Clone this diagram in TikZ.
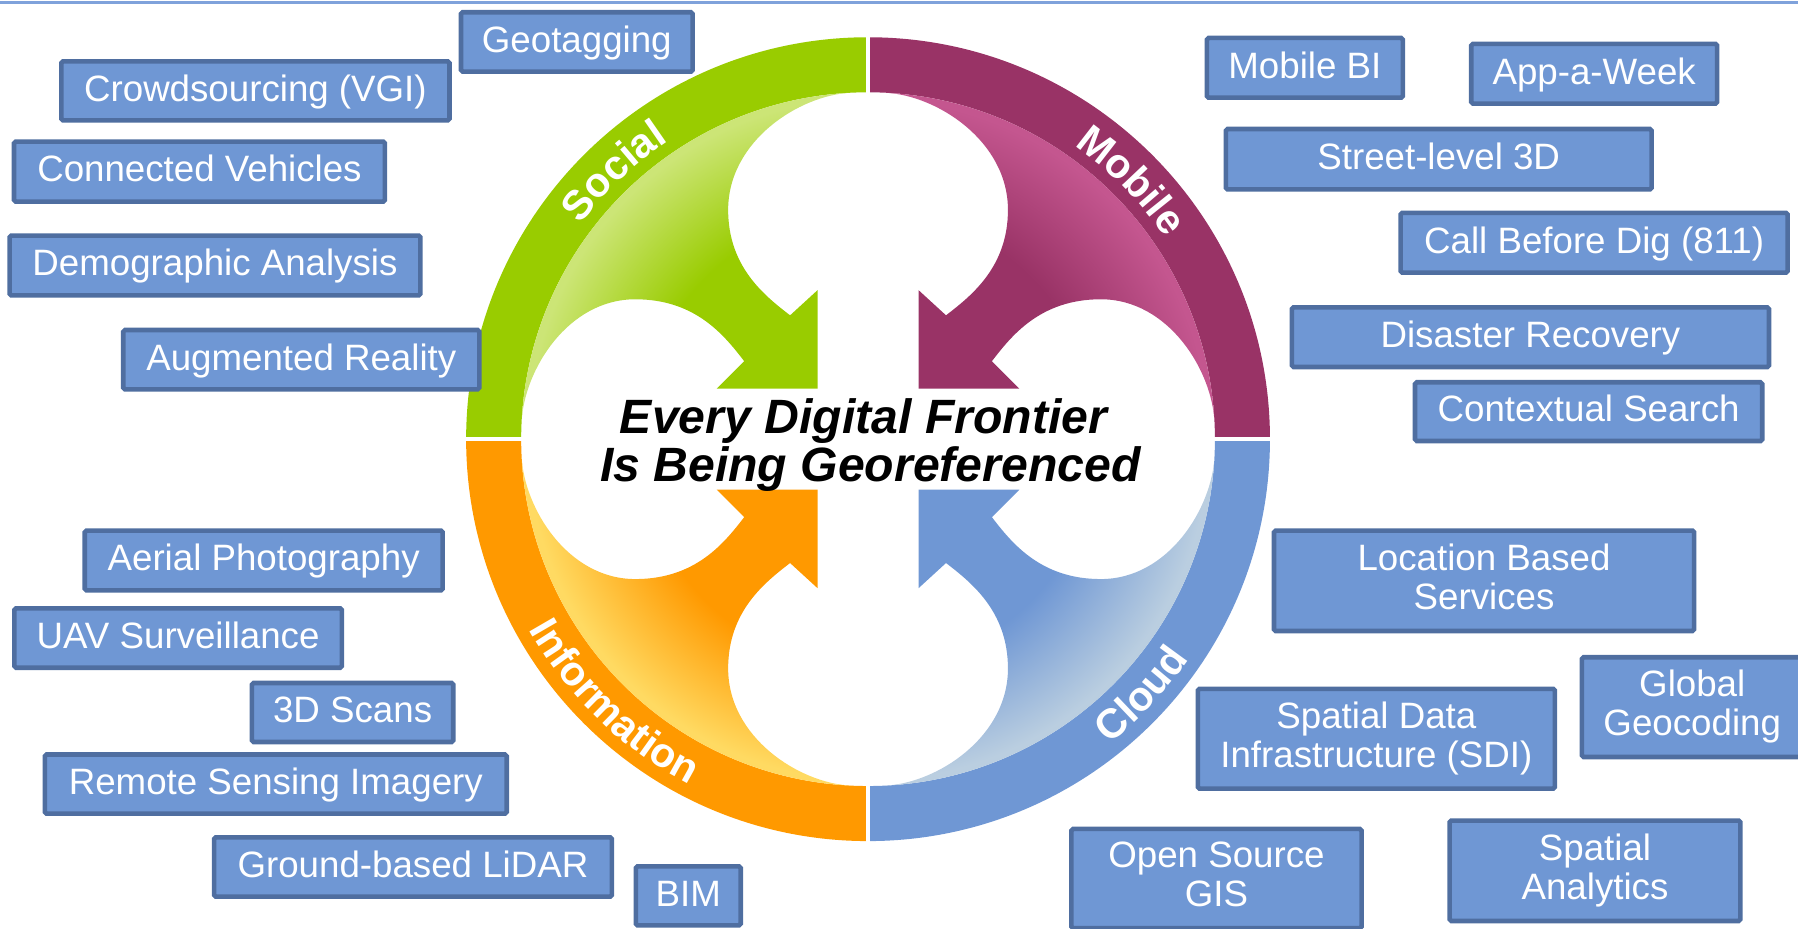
\documentclass[tikz,border=0pt]{standalone}
\usepackage{fontspec}
\setmainfont{Liberation Sans}
\usetikzlibrary{decorations.text}

\definecolor{boxfill}{RGB}{111,151,212}
\definecolor{boxline}{RGB}{79,110,160}
\definecolor{gBase}{RGB}{153,204,0}
\definecolor{gLight}{RGB}{204,229,118}
\definecolor{pBase}{RGB}{153,51,102}
\definecolor{pLight}{RGB}{196,86,143}
\definecolor{oBase}{RGB}{255,153,0}
\definecolor{oLight}{RGB}{255,218,98}
\definecolor{bBase}{RGB}{111,151,212}
\definecolor{bLight}{RGB}{186,206,224}
\definecolor{toplinecol}{RGB}{127,162,219}

\pgfdeclareradialshading{shG}{\pgfpoint{0bp}{0bp}}{color(0bp)=(gBase); color(16.5bp)=(gBase); color(24.6bp)=(gLight); color(50bp)=(gLight)}
\pgfdeclareradialshading{shP}{\pgfpoint{0bp}{0bp}}{color(0bp)=(pBase); color(16.5bp)=(pBase); color(24.6bp)=(pLight); color(50bp)=(pLight)}
\pgfdeclareradialshading{shO}{\pgfpoint{0bp}{0bp}}{color(0bp)=(oBase); color(16.5bp)=(oBase); color(24.6bp)=(oLight); color(50bp)=(oLight)}
\pgfdeclareradialshading{shB}{\pgfpoint{0bp}{0bp}}{color(0bp)=(bBase); color(16.5bp)=(bBase); color(24.6bp)=(bLight); color(50bp)=(bLight)}

\newcommand{\bstrut}{\rule[-7pt]{0pt}{32pt}}
\newcommand{\arcfont}{\fontsize{36}{36}\selectfont\bfseries}

\newcommand{\armshape}[1]{#1 (92.85:302.5) .. controls (-60,300) and (-122,260) .. (-122,200)
  .. controls (-122,150) and (-90,125) .. (-68,108) -- (-44,130) -- (-44,44) -- (-132,44) -- (-108,68)
  .. controls (-125,90) and (-150,122) .. (-203,122) .. controls (-262,122) and (-300,60) .. (177.15:302.5)
  arc[start angle=177.15, end angle=92.85, radius=302.5] -- cycle;}

\newcommand{\quadrant}[3]{%
  \begin{scope}[#1]
    \fill[#2] (90:350.5) arc[start angle=90, end angle=180, radius=350.5] -- (180:302.5)
      arc[start angle=180, end angle=90, radius=302.5] -- cycle;
    \begin{scope}
      \armshape{\clip}
      \shade[shading=#3] (0,0) circle (302.5);
    \end{scope}
  \end{scope}}

\tikzset{
  box/.style={draw=boxline, fill=boxfill, line width=4pt, rounded corners=1.5pt,
    text=white, font=\fontsize{32}{34}\selectfont, align=center, inner sep=0pt,
    execute at begin node=\bstrut, execute at end node=\bstrut},
  titletext/.style={font=\fontsize{42}{42}\selectfont\bfseries\itshape, text=black, inner sep=0pt, anchor=base},
  divider/.style={white, line width=3.5pt},
  arclabel/.style={decorate, decoration={text along path, text align=center, text color=white, text={|\arcfont|#1}}}
}

\begin{document}
\begin{tikzpicture}[x=1pt, y=1pt]
\useasboundingbox (0,0) rectangle (1568,810);
\clip (0,0) rectangle (1568,810);

% top rule
\draw[toplinecol, line width=2.2pt] (0,808) -- (1568,808);

% ring
\begin{scope}[shift={(757,427)}]
  \quadrant{}{gBase}{shG}
  \quadrant{xscale=-1}{pBase}{shP}
  \quadrant{yscale=-1}{oBase}{shO}
  \quadrant{xscale=-1,yscale=-1}{bBase}{shB}
  \draw[divider] (0,295) -- (0,356);
  \draw[divider] (0,-295) -- (0,-356);
  \draw[divider] (295,0) -- (356,0);
  \draw[divider] (-295,0) -- (-356,0);
  \path[arclabel={Social}] (160:313) arc[start angle=160, end angle=107, radius=313];
  \path[arclabel={Mobile}] (71:313) arc[start angle=71, end angle=18, radius=313];
  \path[arclabel={Information}] (199:339) arc[start angle=199, end angle=253, radius=339];
  \path[arclabel={Cloud}] (290:339) arc[start angle=290, end angle=344, radius=339];
\end{scope}

% left boxes
\node[box, minimum width=202pt, minimum height=51.8pt] (geo) at (503,773.4) {Geotagging};
\node[box, minimum width=338.5pt, minimum height=51.5pt] (crowd) at (222.75,730.75) {Crowdsourcing (VGI)};
\node[box, minimum width=323.5pt, minimum height=52.4pt] (conn) at (173.95,660.3) {Connected Vehicles};
\node[box, minimum width=358.2pt, minimum height=52.1pt] (demo) at (187.5,578.45) {Demographic Analysis};
\node[box, minimum width=310.5pt, minimum height=51.8pt] (ar) at (262.75,496.3) {Augmented Reality};

% right top boxes
\node[box, minimum width=170.9pt, minimum height=52.1pt] (mbi) at (1137.95,750.85) {Mobile BI};
\node[box, minimum width=214.5pt, minimum height=52.1pt] (app) at (1390.25,745.65) {App-a-Week};
\node[box, minimum width=371.3pt, minimum height=52.7pt] (street) at (1254.65,671.15) {Street-level 3D};
\node[box, minimum width=337.6pt, minimum height=52.1pt] (call) at (1390.2,598.25) {Call Before Dig (811)};
\node[box, minimum width=416.1pt, minimum height=52.1pt] (disaster) at (1334.65,515.95) {Disaster Recovery};
\node[box, minimum width=302.8pt, minimum height=51.2pt] (ctx) at (1385.4,451) {Contextual Search};

% bottom left boxes
\node[box, minimum width=312.1pt, minimum height=52.2pt] (aerial) at (229.95,321.2) {Aerial Photography};
\node[box, minimum width=285.5pt, minimum height=51.8pt] (uav) at (155.35,253.6) {UAV Surveillance};
\node[box, minimum width=175.6pt, minimum height=51.5pt] (scans) at (307.5,188.65) {3D Scans};
\node[box, minimum width=402.7pt, minimum height=51.6pt] (rsi) at (240.55,126.2) {Remote Sensing Imagery};
\node[box, minimum width=346.9pt, minimum height=51.8pt] (lidar) at (360.15,53.9) {Ground-based LiDAR};
\node[box, minimum width=91.5pt, minimum height=51.5pt] (bim) at (600.25,28.75) {BIM};

% bottom right boxes
\node[box, minimum width=366.4pt, minimum height=87.6pt] (lbs) at (1294.2,303.5) {Location Based\\Services};
\node[box, minimum width=192.5pt, minimum height=87pt] (geocode) at (1475.75,193.3) {Global\\Geocoding};
\node[box, minimum width=311.4pt, minimum height=87pt] (sdi) at (1200.3,165.7) {Spatial Data\\Infrastructure (SDI)};
\node[box, minimum width=253.1pt, minimum height=86.6pt] (osgis) at (1060.85,43.8) {Open Source\\GIS};
\node[box, minimum width=253.5pt, minimum height=87.6pt] (analytics) at (1390.95,50.6) {Spatial\\Analytics};

% title
\node[titletext] (t1) at (753,432) {Every Digital Frontier};
\node[titletext] (t2) at (759,390) {Is Being Georeferenced};
\end{tikzpicture}
\end{document}
